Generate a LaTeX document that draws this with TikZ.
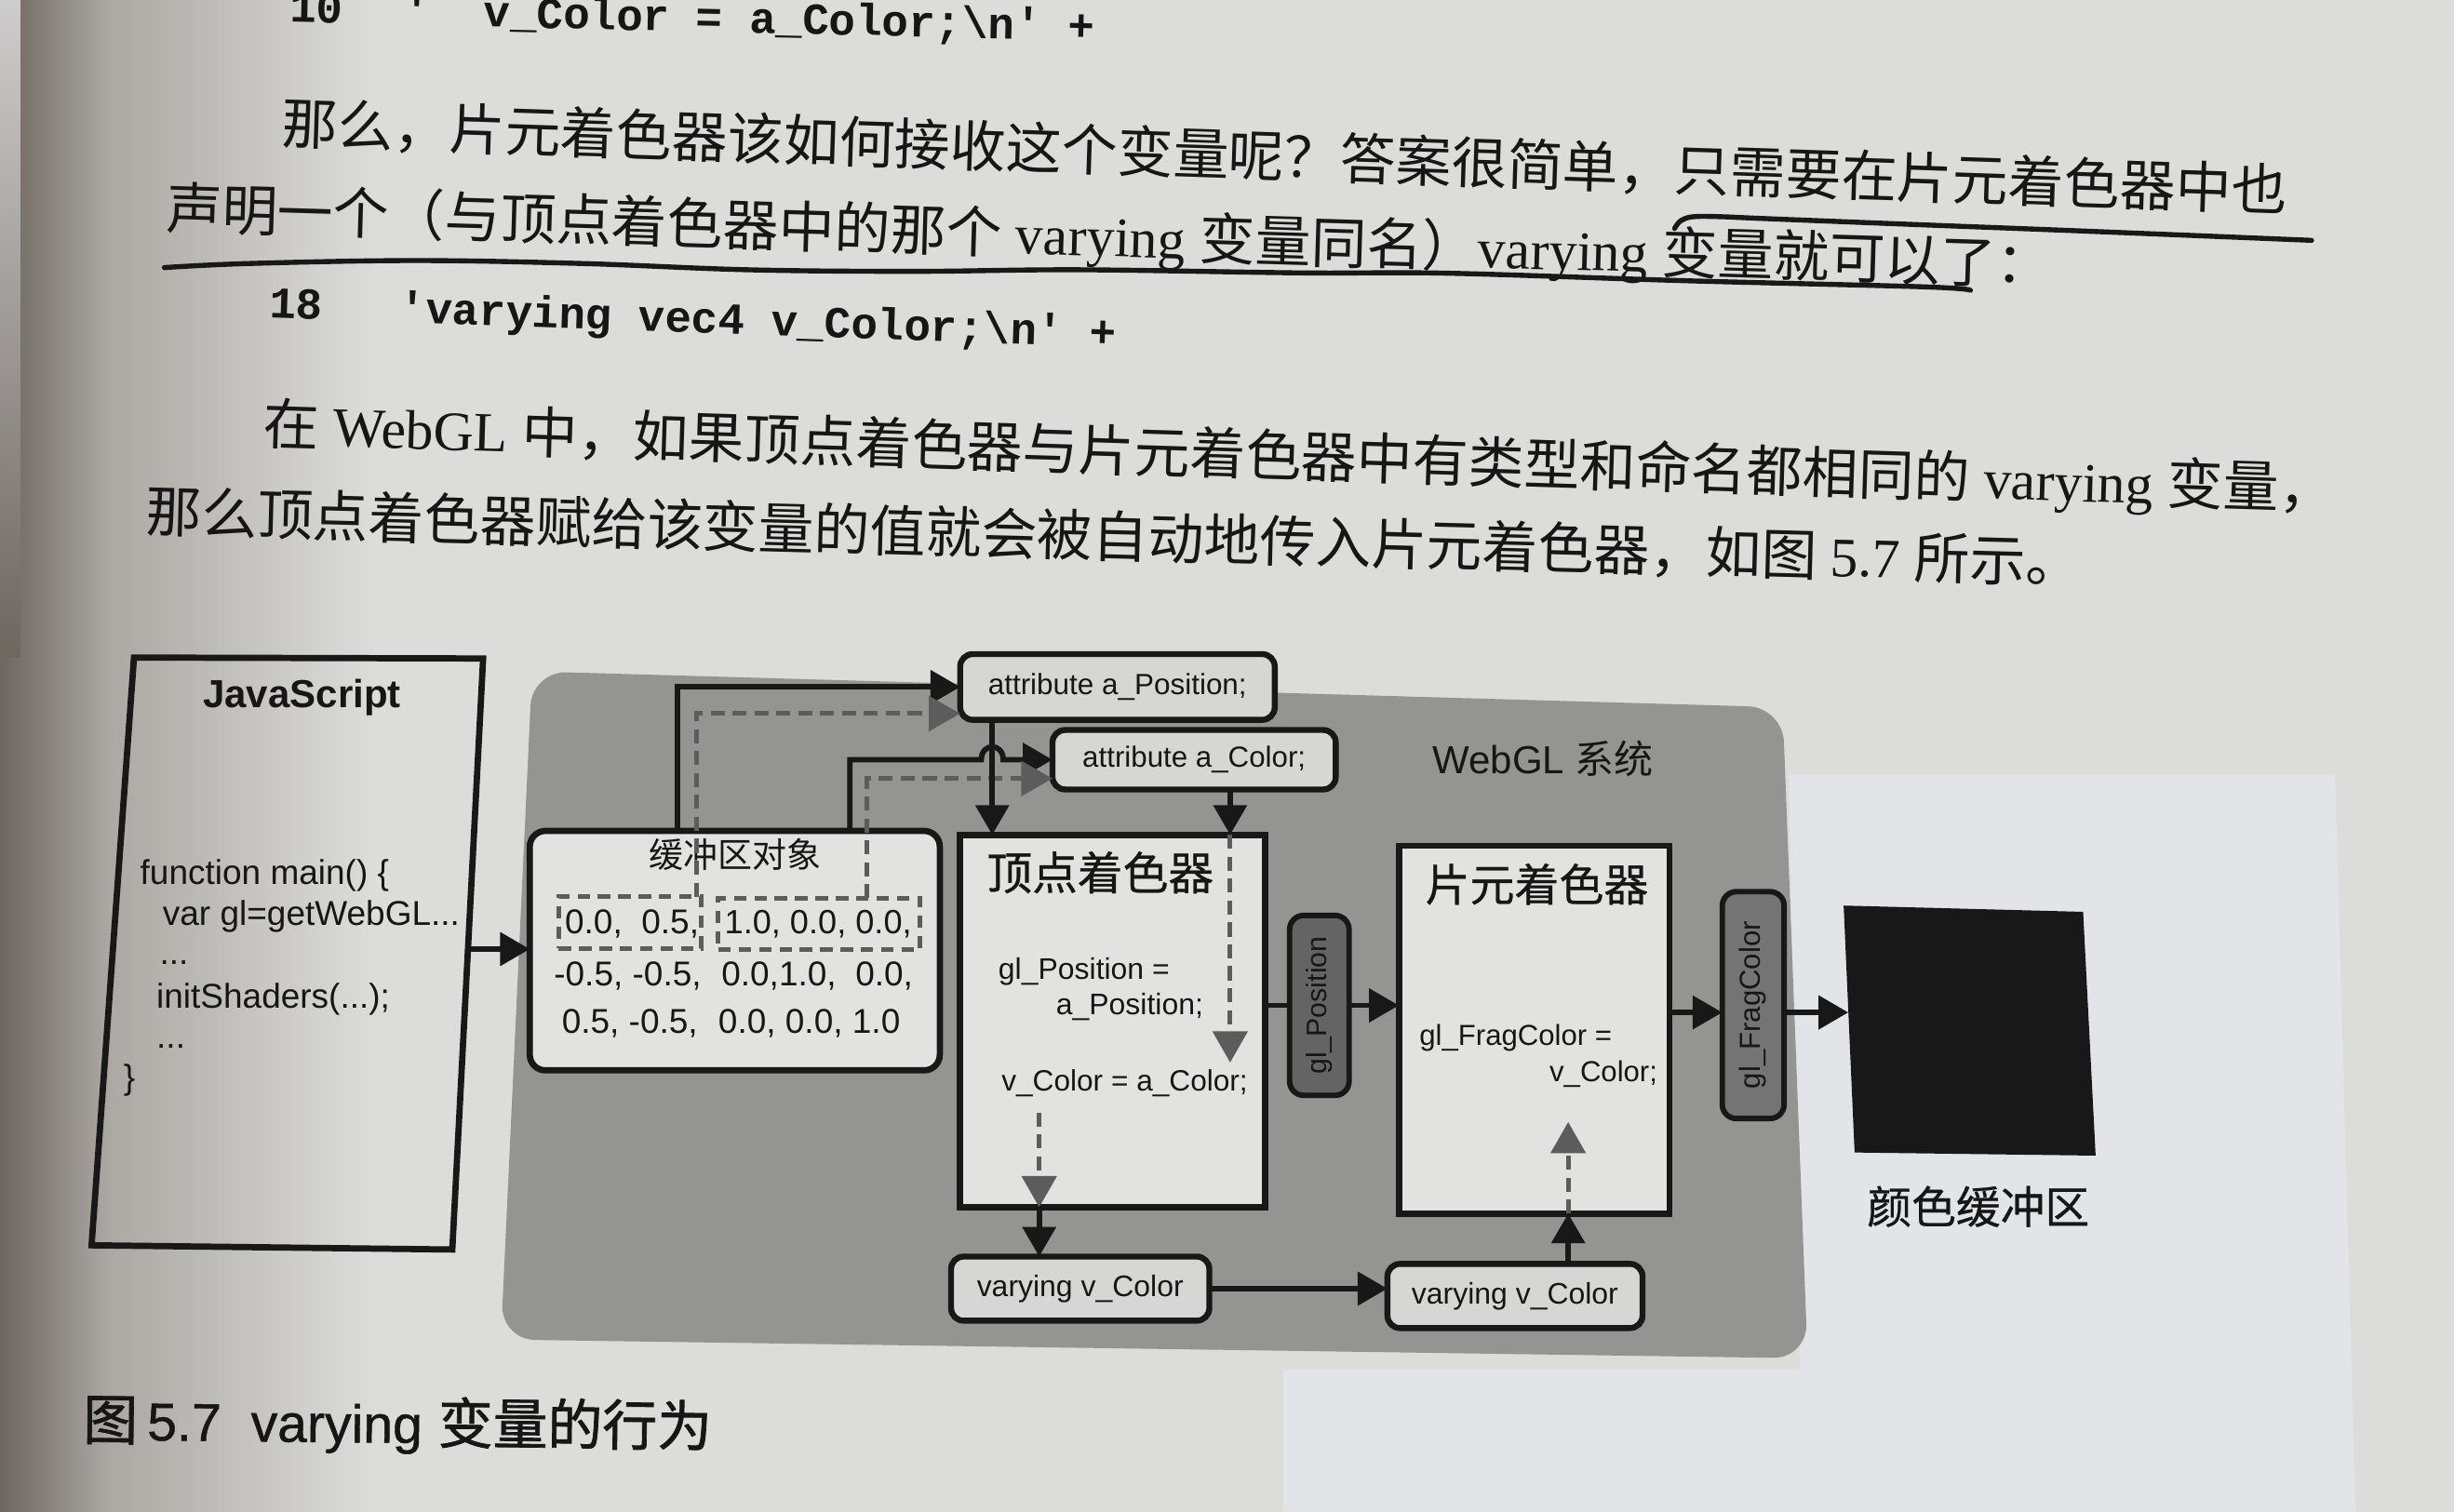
\documentclass[tikz,border=0pt]{standalone}
\usepackage{fontspec}
\setmainfont{Liberation Serif}
\newfontfamily\cjk{Noto Sans CJK SC}
\newfontfamily\cjkm[FakeBold=0.6]{Noto Sans CJK SC}
\newfontfamily\cjkb[FakeBold=1.2]{Noto Sans CJK SC}
\newfontfamily\tms{Liberation Serif}
\newfontfamily\hel{Liberation Sans}
\newfontfamily\helcap[FakeBold=0.8]{Liberation Sans}
\newfontfamily\cour{Liberation Mono}
\newcommand\fsz[1]{\fontsize{#1}{#1}\selectfont}
\usetikzlibrary{arrows.meta}

\definecolor{page}{RGB}{220,221,219}
\definecolor{bleed}{RGB}{226,228,231}
\definecolor{gutterdark}{RGB}{110,102,95}
\definecolor{guttermid}{RGB}{172,168,163}
\definecolor{edgelight}{RGB}{205,205,203}
\definecolor{ink}{RGB}{24,24,24}
\definecolor{textink}{RGB}{22,22,22}
\definecolor{sysgrey}{RGB}{148,148,147}
\definecolor{boxfill}{RGB}{226,226,225}
\definecolor{tagfill}{RGB}{214,214,213}
\definecolor{pospill}{RGB}{100,100,100}
\definecolor{fragpill}{RGB}{116,116,116}
\definecolor{dashgrey}{RGB}{92,92,92}

\begin{document}
\begin{tikzpicture}[x=1pt,y=-1pt,
  frame/.style={draw=ink, line width=4pt, fill=boxfill, inner sep=0pt, outer sep=0pt},
  tag/.style={frame, fill=tagfill, rounded corners=8pt, line width=3.8pt},
  pill/.style={draw=ink, line width=3.5pt, rounded corners=9pt, inner sep=0pt, outer sep=0pt},
  link/.style={draw=ink, line width=3.5pt},
  flow/.style={link, -{Triangle[length=19pt,width=21pt]}},
  dflow/.style={draw=dashgrey, line width=3pt, dash pattern=on 9pt off 5pt, -{Triangle[length=20pt,width=22pt]}},
  dbox/.style={draw=dashgrey, line width=3pt, dash pattern=on 8pt off 5pt, inner sep=0pt, outer sep=0pt},
  lbl/.style={inner sep=0pt, outer sep=0pt, text=textink},
  para/.style={lbl, anchor=base west, font=\tms\fsz{35.6pt}},
  code/.style={lbl, anchor=base west, font=\cour\bfseries\fsz{28.3pt}},
  pen/.style={draw=ink, line width=3.2pt, line cap=round, line join=round}]

\useasboundingbox (0,0) rectangle (1568,966);

% paper, gutter shadow and the lighter show-through patch
\fill[page] (0,0) rectangle (1568,966);
\fill[bleed] (1143,495) -- (1492,495) -- (1505,966) -- (820,966) -- (820,875) -- (1150,875) -- cycle;
\shade[left color=gutterdark, right color=guttermid] (0,0) rectangle (70,966);
\shade[left color=guttermid, right color=page] (70,0) rectangle (240,966);
\shade[top color=edgelight, bottom color=gutterdark] (0,0) rectangle (13,420);

% running text (each line set in pieces that follow one another along the baseline)
\node[code, rotate=-1.3] (ln10) at (185,14) {10};
\node[code, rotate=-1.3] (cd10) at (258,16) {\textquotesingle\ \ v\_Color = a\_Color;\textbackslash n\textquotesingle\ +};

\node[para, rotate=-1.9] (p1a1) at (180,92) {{\cjk 那么，片元着色器该}};
\node[para, rotate=-1.9] (p1a2) at (p1a1.base east) {{\cjk 如何接收这个变量呢}};
\node[para, rotate=-1.9] (p1a3) at (p1a2.base east) {{\cjk ？答案很简单，只需}};
\node[para, rotate=-1.9] (p1a4) at (p1a3.base east) {{\cjk 要在片元着色器中也}};

\node[para, rotate=-1.7] (p1b1) at (106,146) {{\cjk 声明一个（与顶点着}};
\node[para, rotate=-1.7] (p1b2) at (p1b1.base east) {{\cjk 色器中的那个}\ varying};
\node[para, rotate=-1.7] (p1b3) at (p1b2.base east) {\ {\cjk 变量同名）}varying};
\node[para, rotate=-1.7] (p1b4) at (p1b3.base east) {\ {\cjk 变量就可以了：}};

\node[code, rotate=-2] (ln18) at (172,203) {18};
\node[code, rotate=-2] (cd18) at (255,206) {\textquotesingle varying vec4 v\_Color;\textbackslash n\textquotesingle\ +};

\node[para, rotate=-1.8] (p2a1) at (168,284) {{\cjk 在}\ WebGL\ {\cjk 中，如果}};
\node[para, rotate=-1.8] (p2a2) at (p2a1.base east) {{\cjk 顶点着色器与片元着色}};
\node[para, rotate=-1.8] (p2a3) at (p2a2.base east) {{\cjk 器中有类型和命名都相}};
\node[para, rotate=-1.8] (p2a4) at (p2a3.base east) {{\cjk 同的}\ varying\ {\cjk 变量，}};

\node[para, rotate=-1.5] (p2b1) at (93,340) {{\cjk 那么顶点着色器赋给该}};
\node[para, rotate=-1.5] (p2b2) at (p2b1.base east) {{\cjk 变量的值就会被自动地}};
\node[para, rotate=-1.5] (p2b3) at (p2b2.base east) {{\cjk 传入片元着色器，如图}};
\node[para, rotate=-1.5] (p2b4) at (p2b3.base east) {\ 5.7\ {\cjk 所示。}};

% pen underlines
\draw[pen] plot[smooth, tension=0.6] coordinates {(1070,146) (1074,141) (1082,138.5) (1100,138.5) (1128,139.7) (1229,143.7) (1330,147.6) (1477,153.6)};
\draw[pen] plot[smooth, tension=0.6] coordinates {(105,171) (159,168.4) (265,166.5) (372,168.4) (478,172.4) (584,173.4) (690,172.4) (832,174.4) (925,174.6) (1077,179.4) (1229,183.3) (1259,185.5)};

% JavaScript panel
\coordinate (jsA) at (85.6,420.2);
\coordinate (jsB) at (308.7,420.8);
\coordinate (jsC) at (289,798.5);
\coordinate (jsD) at (58.5,795.8);
\draw[ink, line width=4pt, line join=miter] (jsA) -- (jsB) -- (jsC) -- (jsD) -- cycle;
\node[lbl, font=\hel\bfseries\fsz{25pt}, anchor=base] (jsT) at (193,452) {JavaScript};
\node[lbl, font=\hel\fsz{22pt}, anchor=base west] (js1) at (89.6,565) {function main() \{};
\node[lbl, font=\hel\fsz{22pt}, anchor=base west] (js2) at (104,591.4) {var gl=getWebGL...};
\node[lbl, font=\hel\fsz{22pt}, anchor=base west] (js3) at (102,616.6) {...};
\node[lbl, font=\hel\fsz{22pt}, anchor=base west] (js4) at (100,644.5) {initShaders(...);};
\node[lbl, font=\hel\fsz{22pt}, anchor=base west] (js5) at (100,669.6) {...};
\node[lbl, font=\hel\fsz{22pt}, anchor=base west] (js6) at (79,696) {\}};

% WebGL system area
\fill[sysgrey, rounded corners=22pt] (340,429) -- (1139,452) -- (1155,868) -- (320,856) -- cycle;
\node[lbl, font=\hel\fsz{25pt}] (sysT) at (986,485) {WebGL {\cjk 系统}};

% boxes
\node[frame, rounded corners=10pt, minimum width=262pt, minimum height=153pt] (buf) at (469.5,607.5) {};
\node[tag, minimum width=201pt, minimum height=42pt, font=\hel\fsz{18.7pt}, text=textink] (apos) at (714,439) {attribute a\_Position;};
\node[tag, minimum width=181pt, minimum height=38pt, font=\hel\fsz{18.6pt}, text=textink] (acol) at (763,485.5) {attribute a\_Color;};
\node[frame, minimum width=195pt, minimum height=238pt] (vs) at (711,652.5) {};
\node[frame, minimum width=173pt, minimum height=235pt] (fs) at (980.3,658) {};
\node[pill, fill=pospill, minimum width=38pt, minimum height=115pt] (gpos) at (843,642.5) {};
\node[lbl, rotate=90, font=\hel\fsz{18pt}] (gposT) at (gpos.center) {gl\_Position};
\node[pill, fill=fragpill, minimum width=39.5pt, minimum height=145pt] (gfc) at (1120.2,642.3) {};
\node[lbl, rotate=90, font=\hel\fsz{18.5pt}] (gfcT) at (gfc.center) {gl\_FragColor};
\node[tag, minimum width=165pt, minimum height=41pt, font=\hel\fsz{19pt}, text=textink] (vc1) at (690.2,823.5) {varying v\_Color};
\node[tag, minimum width=163pt, minimum height=41pt, font=\hel\fsz{19pt}, text=textink] (vc2) at (968,828.2) {varying v\_Color};

% colour buffer
\coordinate (cbA) at (1178,578.7);
\coordinate (cbB) at (1331,582.7);
\coordinate (cbC) at (1339,738.5);
\coordinate (cbD) at (1185,736.5);
\coordinate (cbIn) at (1181,647);
\fill[ink] (cbA) -- (cbB) -- (cbC) -- (cbD) -- cycle;
\node[lbl, font=\cjkm\fsz{28.4pt}] (cbT) at (1264,771) {颜色缓冲区};

% buffer object contents
\node[lbl, font=\cjk\fsz{22pt}] (bufT) at (470,546) {缓冲区对象};
\node[dbox, minimum width=91pt, minimum height=33pt] (dr1) at (402.5,589.5) {};
\node[dbox, minimum width=129pt, minimum height=33pt] (dr2) at (523.5,590.5) {};
\node[lbl, font=\hel\fsz{22pt}, anchor=base west] (r1a) at (361,596.7) {0.0,\ \ 0.5,};
\node[lbl, font=\hel\fsz{21.5pt}, anchor=base west] (r1b) at (463,596.7) {1.0, 0.0, 0.0,};
\node[lbl, font=\hel\fsz{22pt}, anchor=base west] (r2a) at (354,630) {-0.5, -0.5,};
\node[lbl, font=\hel\fsz{22pt}, anchor=base west] (r2b) at (461,630) {0.0,1.0,\ \ 0.0,};
\node[lbl, font=\hel\fsz{22pt}, anchor=base west] (r3a) at (359,660.4) {0.5, -0.5,};
\node[lbl, font=\hel\fsz{22pt}, anchor=base west] (r3b) at (459,660.4) {0.0, 0.0, 1.0};

% vertex shader contents
\node[lbl, font=\cjkm\fsz{29pt}] (vsT) at (703,557.5) {顶点着色器};
\node[lbl, font=\hel\fsz{19pt}, anchor=base west] (vsL1) at (638,625.6) {gl\_Position =};
\node[lbl, font=\hel\fsz{19pt}, anchor=base west] (vsL2) at (674.8,648.5) {a\_Position;};
\node[lbl, font=\hel\fsz{18.8pt}, anchor=base west] (vsL3) at (640,697) {v\_Color = a\_Color;};

% fragment shader contents
\node[lbl, font=\cjkm\fsz{28.5pt}] (fsT) at (982,565) {片元着色器};
\node[lbl, font=\hel\fsz{18.5pt}, anchor=base west] (fsL1) at (907,668.2) {gl\_FragColor =};
\node[lbl, font=\hel\fsz{18.5pt}, anchor=base east] (fsL2) at (1059,691) {v\_Color;};

% connectors
\coordinate (jsOut) at (299,606.5);
\draw[flow] (jsOut) -- (jsOut -| buf.west);

\coordinate (bufUp1) at (433,531);
\draw[flow] (bufUp1) |- (apos.west);
\coordinate (dUp1) at (445,573);
\draw[dflow] (dUp1) |- ([yshift=-17pt]apos.west);

\coordinate (bufUp2) at (543,531);
\coordinate (hopA) at (627,485.5);
\coordinate (hopB) at (641,485.5);
\draw[flow] (bufUp2) |- (hopA) .. controls +(0,-11) and +(0,-11) .. (hopB) -- (acol.west);
\coordinate (dUp2) at (554,574);
\draw[dflow] (dUp2) |- ([yshift=-12pt]acol.west);

\coordinate (aposDown) at (634,460);
\draw[flow] (aposDown) -- (aposDown |- vs.north);
\coordinate (acolDown) at (786,504.5);
\draw[flow] (acolDown) -- (acolDown |- vs.north);
\coordinate (vsDashEnd) at (786,679);
\draw[dflow] (acolDown |- vs.north) -- (vsDashEnd);

\draw[link] (gpos.west -| vs.east) -- (gpos.west);
\draw[flow] (gpos.east) -- (gpos.east -| fs.west);
\coordinate (fsOut) at (1066.8,647);
\draw[flow] (fsOut) -- (fsOut -| gfc.west);
\draw[flow] (gfc.east |- cbIn) -- (cbIn);

\coordinate (vsDashTop) at (664,711);
\coordinate (vsOut) at (664,771.5);
\draw[dflow] (vsDashTop) -- (vsOut);
\draw[flow] (vsOut) -- (vsOut |- vc1.north);
\draw[flow] (vc1.east) -- (vc1.east -| vc2.west);

\coordinate (vcUp) at (1002,807.7);
\draw[flow] (vcUp) -- (vcUp |- fs.south);
\coordinate (fsDashEnd) at (1002,717);
\draw[dflow] (vcUp |- fs.south) -- (fsDashEnd);

% caption
\node[lbl, anchor=base west, rotate=-0.6, font=\helcap\fsz{34pt}] (cap) at (53,920)
  {{\cjkb\fsz{35pt}图}\hspace{6pt}5.7\hspace{19pt}varying\hspace{10pt}{\cjkb\fsz{35pt}变量的行为}};
\end{tikzpicture}
\end{document}
